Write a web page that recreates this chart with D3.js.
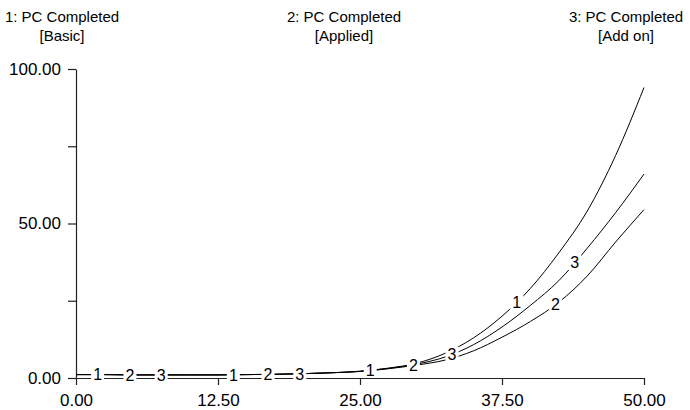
<!DOCTYPE html>
<html>
<head>
<meta charset="utf-8">
<script src="https://cdn.jsdelivr.net/npm/d3@7"></script>
<style>
    body {
        padding: 0;
        margin: 0;
        background: #fff;
    }
    svg {
        display: block;
        font-family: "Liberation Sans", Arial, Helvetica, sans-serif;
    }
</style>
</head>
<body>
<script>
// simulation time
const times   = [0, 2.5, 5, 7.5, 10, 12.5, 15, 17.5, 20, 22.5, 25, 27.5, 30, 32.5, 35, 37.5, 40, 42.5, 45, 47.5, 50];
// PC Completed per series
const basic   = [1.1, 1.1, 1.0, 1.0, 1.0, 1.0, 1.1, 1.2, 1.4, 1.7, 2.2, 3.2, 4.8, 8.0, 13.0, 20.0, 29.0, 40.5, 54.0, 72.0, 94.0];
const applied = [1.1, 1.1, 1.0, 1.0, 1.0, 1.0, 1.1, 1.2, 1.4, 1.7, 2.1, 3.0, 4.2, 5.8, 8.8, 13.2, 18.3, 24.5, 33.0, 44.0, 54.5];
const addOn   = [1.1, 1.1, 1.0, 1.0, 1.0, 1.0, 1.1, 1.2, 1.4, 1.7, 2.15, 3.1, 4.5, 6.8, 10.8, 16.5, 23.5, 31.5, 42.0, 53.5, 66.0];

const seriesNames = ['1: PC Completed', '2: PC Completed', '3: PC Completed'];
const seriesSubs  = ['[Basic]', '[Applied]', '[Add on]'];
const seriesIds   = ['1', '2', '3'];
// times where the series number sits on the line
const labelTimes  = [
    [1.9, 13.85, 25.9, 38.8],
    [4.75, 16.9, 29.7, 42.2],
    [7.5, 19.7, 33.1, 43.9]
];

const xTicks = [0, 12.5, 25, 37.5, 50];
const yTicks = [0, 25, 50, 75, 100];
const yTickLabels = ['0.00', '', '50.00', '', '100.00'];

const width = 690;
const height = 410;

const svg = d3.create('svg')
    .attr('viewBox', [0, 0, width, height])
    .attr('width', width)
    .attr('height', height);

document.body.appendChild(svg.node());

const x = d3.scaleLinear().domain([0, 50]).range([76, 644]);
const y = d3.scaleLinear().domain([0, 100]).range([378, 69]);

const series = [basic, applied, addOn].map((vals, i) => ({
    id: seriesIds[i],
    name: seriesNames[i],
    sub: seriesSubs[i],
    points: times.map((t, j) => [t, vals[j]]),
    at: d3.scaleLinear().domain(times).range(vals),
    labels: labelTimes[i]
}));

// header
const head = d3.scalePoint().domain(seriesNames.map((d, i) => i)).range([62, 626]);
const hg = svg.selectAll('g.head')
    .data(series)
    .join('g')
        .classed('head', true)
        .attr('transform', (d, i) => `translate(${head(i)},0)`)
        .attr('text-anchor', 'middle')
        .attr('font-size', 15);
hg.append('text').attr('y', 22).text(d => d.name);
hg.append('text').attr('y', 41).text(d => d.sub);

// axes
const xAxis = svg.append('g')
    .attr('transform', `translate(0,${y(0)})`)
    .call(d3.axisBottom(x)
        .tickValues(xTicks)
        .tickFormat(d3.format('.2f'))
        .tickSizeInner(7)
        .tickSizeOuter(0)
        .tickPadding(9));

const yAxis = svg.append('g')
    .attr('transform', `translate(${x(0)},0)`)
    .call(d3.axisLeft(y)
        .tickValues(yTicks)
        .tickFormat((d, i) => yTickLabels[i])
        .tickSizeInner(8)
        .tickSizeOuter(0)
        .tickPadding(7));

[xAxis, yAxis].forEach(a => {
    a.selectAll('text').attr('font-size', 17).attr('font-family', null).attr('fill', '#000');
    a.selectAll('path, line').attr('stroke', '#222').attr('stroke-width', 1.2);
});

// lines
const line = d3.line()
    .x(d => x(d[0]))
    .y(d => y(d[1]))
    .curve(d3.curveMonotoneX);

svg.selectAll('path.series')
    .data(series)
    .join('path')
        .classed('series', true)
        .attr('d', d => line(d.points))
        .attr('fill', 'none')
        .attr('stroke', '#000')
        .attr('stroke-width', 1);

// numbers on the lines
const marks = series.flatMap(s => s.labels.map(t => ({ id: s.id, px: x(t), py: y(s.at(t)) })));

const mg = svg.selectAll('g.mark')
    .data(marks)
    .join('g')
        .classed('mark', true)
        .attr('transform', d => `translate(${d.px},${d.py})`);

mg.append('rect')
    .attr('x', -6.5)
    .attr('y', -7.5)
    .attr('width', 13)
    .attr('height', 15)
    .attr('fill', '#fff');

mg.append('text')
    .attr('text-anchor', 'middle')
    .attr('dy', '0.36em')
    .attr('font-size', 16)
    .text(d => d.id);
</script>
</body>
</html>
